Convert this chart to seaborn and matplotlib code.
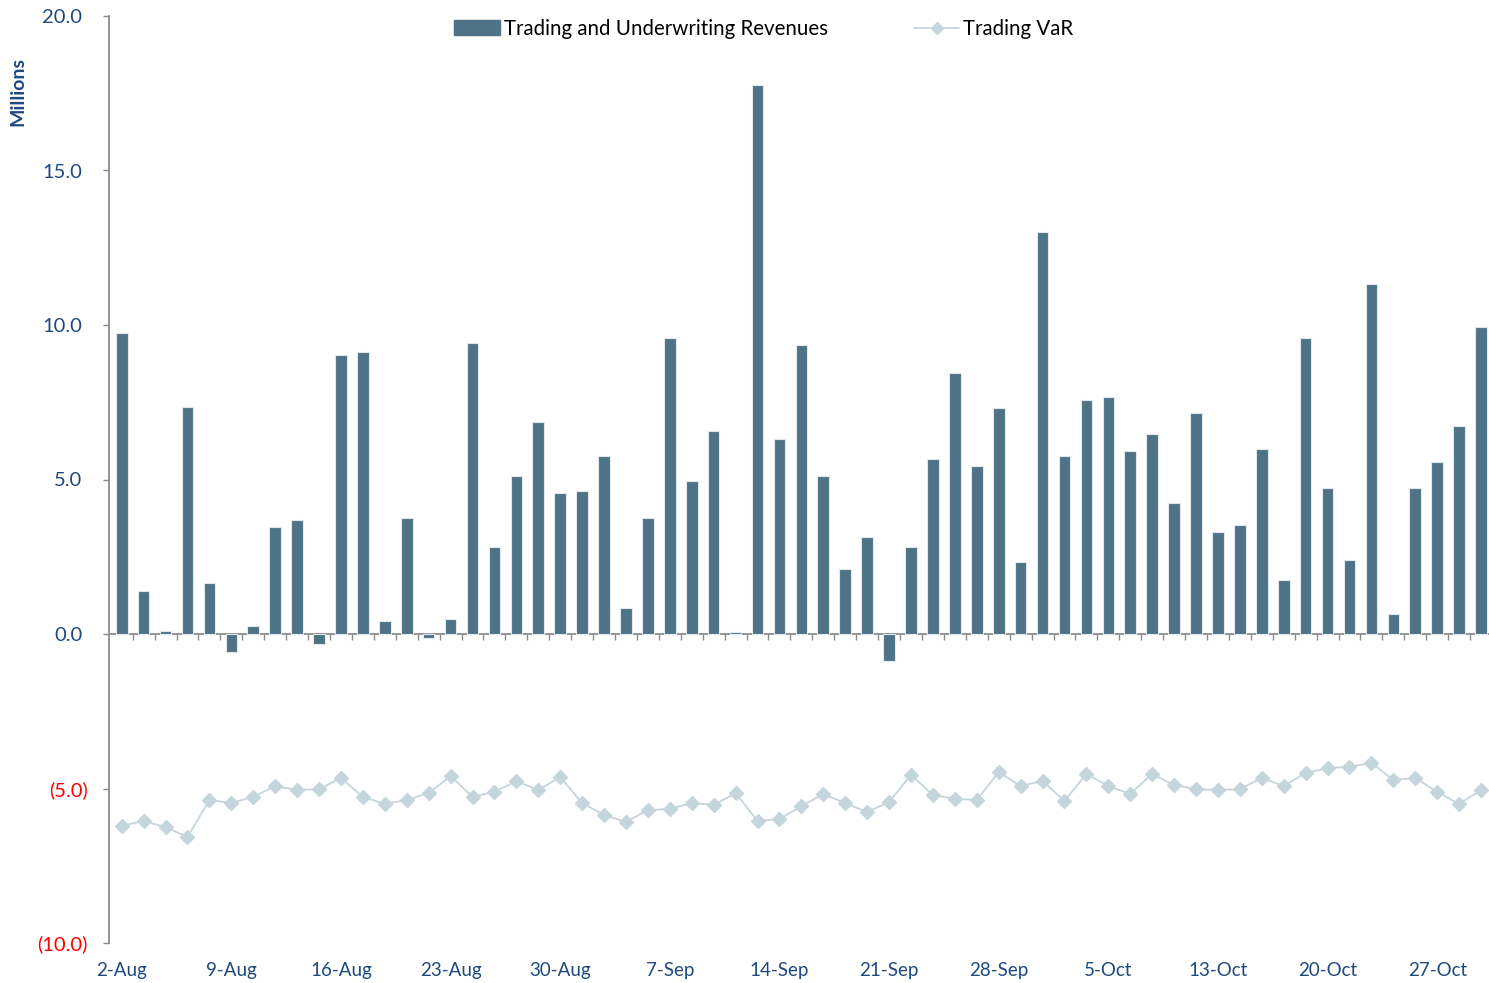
import matplotlib
matplotlib.use("Agg")
import matplotlib.pyplot as plt
import matplotlib.transforms as mtransforms
import seaborn as sns
import pandas as pd
from matplotlib.patches import Patch
from matplotlib.lines import Line2D

# Trading days, August to October
dates = [
    "2-Aug", "3-Aug", "4-Aug", "5-Aug", "6-Aug",
    "9-Aug", "10-Aug", "11-Aug", "12-Aug", "13-Aug",
    "16-Aug", "17-Aug", "18-Aug", "19-Aug", "20-Aug",
    "23-Aug", "24-Aug", "25-Aug", "26-Aug", "27-Aug",
    "30-Aug", "31-Aug", "1-Sep", "2-Sep", "3-Sep",
    "7-Sep", "8-Sep", "9-Sep", "10-Sep", "13-Sep",
    "14-Sep", "15-Sep", "16-Sep", "17-Sep", "20-Sep",
    "21-Sep", "22-Sep", "23-Sep", "24-Sep", "27-Sep",
    "28-Sep", "29-Sep", "30-Sep", "1-Oct", "4-Oct",
    "5-Oct", "6-Oct", "7-Oct", "8-Oct", "12-Oct",
    "13-Oct", "14-Oct", "15-Oct", "18-Oct", "19-Oct",
    "20-Oct", "21-Oct", "22-Oct", "25-Oct", "26-Oct",
    "27-Oct", "28-Oct", "29-Oct",
]

# Daily trading and underwriting revenues ($ millions)
revenues = [
    9.74, 1.39, 0.10, 7.35, 1.65,
    -0.58, 0.26, 3.46, 3.69, -0.32,
    9.03, 9.13, 0.42, 3.75, -0.12,
    0.49, 9.42, 2.82, 5.11, 6.86,
    4.56, 4.63, 5.76, 0.84, 3.75,
    9.58, 4.95, 6.57, 0.08, 17.77,
    6.31, 9.35, 5.11, 2.10, 3.14,
    -0.87, 2.82, 5.66, 8.45, 5.44,
    7.31, 2.33, 13.00, 5.76, 7.57,
    7.67, 5.92, 6.47, 4.24, 7.15,
    3.30, 3.53, 5.99, 1.75, 9.58,
    4.72, 2.39, 11.33, 0.65, 4.72,
    5.57, 6.73, 9.94,
]

# Daily trading value-at-risk ($ millions)
trading_var = [
    -6.21, -6.05, -6.25, -6.57, -5.37,
    -5.47, -5.27, -4.92, -5.05, -5.02,
    -4.66, -5.27, -5.50, -5.37, -5.15,
    -4.60, -5.27, -5.11, -4.76, -5.05,
    -4.63, -5.47, -5.86, -6.08, -5.70,
    -5.66, -5.47, -5.53, -5.15, -6.05,
    -5.99, -5.57, -5.18, -5.47, -5.76,
    -5.44, -4.56, -5.21, -5.34, -5.37,
    -4.47, -4.92, -4.76, -5.40, -4.53,
    -4.92, -5.18, -4.53, -4.89, -5.02,
    -5.05, -5.02, -4.66, -4.92, -4.50,
    -4.34, -4.30, -4.17, -4.72, -4.66,
    -5.11, -5.50, -5.05,
]

label_dates = ["2-Aug", "9-Aug", "16-Aug", "23-Aug", "30-Aug", "7-Sep", "14-Sep",
               "21-Sep", "28-Sep", "5-Oct", "13-Oct", "20-Oct", "27-Oct"]
y_ticks = [-10, -5, 0, 5, 10, 15, 20]

BAR = "#4E7386"
VAR = "#C5D5DC"
NAVY = "#1F497D"
RED = "#FF0000"
AXIS = "#8C8C8C"

sns.set_theme(style="white")
plt.rcParams["font.family"] = ["Lato", "DejaVu Sans"]

W, H = 1489, 983
fig = plt.figure(figsize=(W / 100, H / 100), dpi=100)
ax = fig.add_axes([109 / W, 40 / H, 1383 / W, 927 / H])

df = pd.DataFrame({"date": dates, "revenue": revenues, "var": trading_var})

sns.barplot(data=df, x="date", y="revenue", color=BAR, saturation=1, width=0.53,
            edgecolor="#E2E8EB", linewidth=0.8, ax=ax)
sns.pointplot(data=df, x="date", y="var", color=VAR, markers="D", markersize=7,
              linewidth=1.3, errorbar=None, ax=ax)

ax.set_xlim(-0.58, len(dates) - 0.5)
ax.set_ylim(y_ticks[0], y_ticks[-1])
ax.set_xlabel("")
ax.set_ylabel("")

# y axis: navy positives, red bracketed negatives
ax.set_yticks(y_ticks)
ax.set_yticklabels([f"({abs(v):.1f})" if v < 0 else f"{v:.1f}" for v in y_ticks])
ax.tick_params(axis="y", direction="out", length=4.5, width=1, color=AXIS,
               pad=11, labelsize=14.5, left=True)
# positives leave room for a closing bracket, as in accounting format
shift = mtransforms.ScaledTranslation(-5 / 100, 0, fig.dpi_scale_trans)
for tick, v in zip(ax.yaxis.get_major_ticks(), y_ticks):
    tick.label1.set_color(RED if v < 0 else NAVY)
    if v >= 0:
        tick.label1.set_transform(tick.label1.get_transform() + shift)

# date labels sit at the bottom of the plot
idx = [dates.index(d) for d in label_dates]
ax.set_xticks(idx)
ax.set_xticklabels(label_dates)
ax.tick_params(axis="x", length=0, pad=14, labelsize=13.5, labelcolor=NAVY)

for s in ["top", "right", "bottom"]:
    ax.spines[s].set_visible(False)
ax.spines["left"].set_color(AXIS)
ax.spines["left"].set_linewidth(1.3)

# category axis crossing at zero with ticks between bars
zero_frac = (0 - y_ticks[0]) / (y_ticks[-1] - y_ticks[0])
sec = ax.secondary_xaxis(zero_frac)
sec.set_xticks([i + 0.5 for i in range(len(dates) - 1)])
sec.tick_params(axis="x", direction="out", length=4.5, width=1, color=AXIS,
                labelbottom=False, labeltop=False)
for s in sec.spines.values():
    s.set_color(AXIS)
    s.set_linewidth(1.3)

fig.text(18 / W, 1 - 91 / H, "Millions", rotation=90, ha="center", va="center",
         color=NAVY, fontweight="bold", fontsize=14)

handles = [Patch(facecolor=BAR, edgecolor=BAR),
           Line2D([], [], color=VAR, marker="D", markersize=6.5, lw=1.3)]
fig.legend(handles, ["Trading and Underwriting Revenues", "Trading VaR"],
           loc="center", bbox_to_anchor=(764 / W, 1 - 29 / H), ncol=2, frameon=False,
           fontsize=14.8, handlelength=2.2, handleheight=0.75, handletextpad=0.2,
           columnspacing=4.2, labelcolor="black")

fig.savefig("out.png", dpi=100)
